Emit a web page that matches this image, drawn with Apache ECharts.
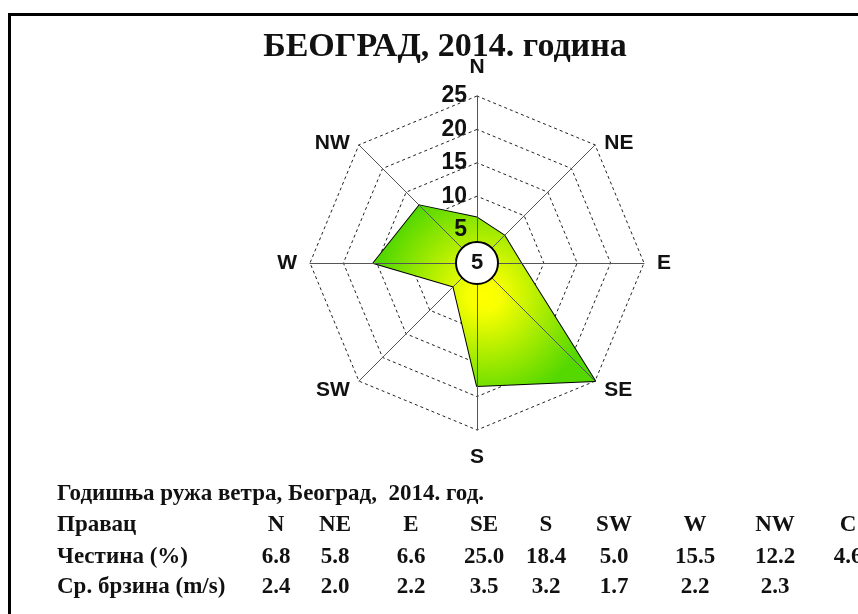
<!DOCTYPE html>
<html><head><meta charset="utf-8">
<script src="https://cdn.jsdelivr.net/npm/echarts@6/dist/echarts.min.js"></script>
<style>html,body{margin:0;padding:0;background:#fff}#c{width:858px;height:614px}</style>
</head><body><div id="c"></div>
<script>
var directions = ['N','NE','E','SE','S','SW','W','NW'];
var frequency = [6.8, 5.8, 6.6, 25.0, 18.4, 5.0, 15.5, 12.2];
var speed = [2.4, 2.0, 2.2, 3.5, 3.2, 1.7, 2.2, 2.3];
var calm = 4.6;
var tableCols = ['N','NE','E','SE','S','SW','W','NW','C'];
var freqText = ['6.8','5.8','6.6','25.0','18.4','5.0','15.5','12.2','4.6'];
var speedText = ['2.4','2.0','2.2','3.5','3.2','1.7','2.2','2.3',''];
var rowLabels = ['Правац','Честина (%)','Ср. брзина (m/s)'];
var tableTitle = 'Годишња ружа ветра, Београд,  2014. год.';
var chartTitle = 'БЕОГРАД, 2014. година';

// ECharts radar runs counter-clockwise: N, NW, W, SW, S, SE, E, NE
var order = [0,7,6,5,4,3,2,1];
function makeIndicators(withLabel){
  return order.map(function(i, k){
    var ind = {name: directions[i], max: 25, min: 0};
    if (withLabel && k === 0) ind.axisLabel = {show: true};
    return ind;
  });
}
var values = order.map(function(i){ return frequency[i]; });

var colX = [276, 335, 411, 484, 546, 614, 695, 775, 848];
var rowY = [525, 557, 587];
var tFont = 'bold 23px "Liberation Serif"';
var graphics = [
  {type:'rect', shape:{x:9.5,y:14.5,width:900,height:700}, style:{fill:'none', stroke:'#000', lineWidth:3}, silent:true},
  {type:'text', x:445, y:47, style:{text:chartTitle, font:'bold 34px "Liberation Serif"', fill:'#111', align:'center', verticalAlign:'middle'}},
  {type:'text', x:57, y:494, style:{text:tableTitle, font:tFont, fill:'#111', align:'left', verticalAlign:'middle'}}
];
rowLabels.forEach(function(t, r){
  graphics.push({type:'text', x:57, y:rowY[r], style:{text:t, font:tFont, fill:'#111', align:'left', verticalAlign:'middle'}});
});
[tableCols, freqText, speedText].forEach(function(arr, r){
  arr.forEach(function(t, c){
    graphics.push({type:'text', x:colX[c], y:rowY[r], style:{text:t, font:tFont, fill:'#111', align:'center', verticalAlign:'middle'}});
  });
});

var nameStyle = {color:'#111', fontFamily:'Liberation Sans', fontWeight:'bold', fontSize:21};
function ns(extra){ var o = {}; for (var k in nameStyle) o[k]=nameStyle[k]; for (var k2 in extra) o[k2]=extra[k2]; return o; }

var chart = echarts.init(document.getElementById('c'));
chart.setOption({
  animation: false,
  backgroundColor: '#fff',
  radar: [{
    center: [477, 263], radius: 167, startAngle: 90, splitNumber: 5, shape: 'polygon',
    indicator: makeIndicators(false),
    nameGap: 13,
    axisName: {
      color:'#111', fontFamily:'Liberation Sans', fontWeight:'bold', fontSize:21,
      formatter: function(name){
        var key = (name === 'NE' || name === 'NW') ? 'd' : (name === 'N' ? 'n' : (name === 'S' ? 's' : 'o'));
        return '{' + key + '|' + name + '}';
      },
      rich: {
        d: ns({padding:[14,0,0,0]}),
        n: ns({padding:[0,0,5,0]}),
        s: ns({padding:[4,0,0,0]}),
        o: ns({})
      }
    },
    axisLine: {show:false},
    axisTick: {show:false},
    axisLabel: {show:false},
    splitLine: {lineStyle:{color:'#222', type:[3,3], width:1}},
    splitArea: {show:false}
  }, {
    z: 3,
    center: [477, 263], radius: 167, startAngle: 90, splitNumber: 5, shape: 'polygon',
    indicator: makeIndicators(true),
    axisName: {show:false},
    axisLine: {show:true, lineStyle:{color:'#555', width:1}},
    axisTick: {show:false},
    axisLabel: {show:false, color:'#111', fontFamily:'Liberation Sans', fontWeight:'bold', fontSize:23, margin:10,
      formatter: function(v){ return v === 0 ? '' : v; }},
    splitLine: {show:false},
    splitArea: {show:false}
  }],
  series: [
    {type:'radar', radarIndex:0, symbol:'none', silent:true, z:2,
     lineStyle:{color:'#000', width:2},
     areaStyle:{opacity:1, color:{type:'radial', x:0.5, y:0.5, r:0.6,
       colorStops:[{offset:0,color:'#ffff00'},{offset:0.15,color:'#f8ff00'},{offset:1,color:'#55d800'}]}},
     data:[{value: values}]},
    {type:'pie', center:[477,263], radius:[0,21], silent:true, z:5,
     itemStyle:{color:'#fff', borderColor:'#000', borderWidth:2},
     label:{show:true, position:'center', formatter: String(Math.round(calm)), color:'#111', fontFamily:'Liberation Sans', fontWeight:'bold', fontSize:22},
     labelLine:{show:false},
     data:[{value: calm, name:'C'}]}
  ],
  graphic: graphics
});
</script></body></html>
